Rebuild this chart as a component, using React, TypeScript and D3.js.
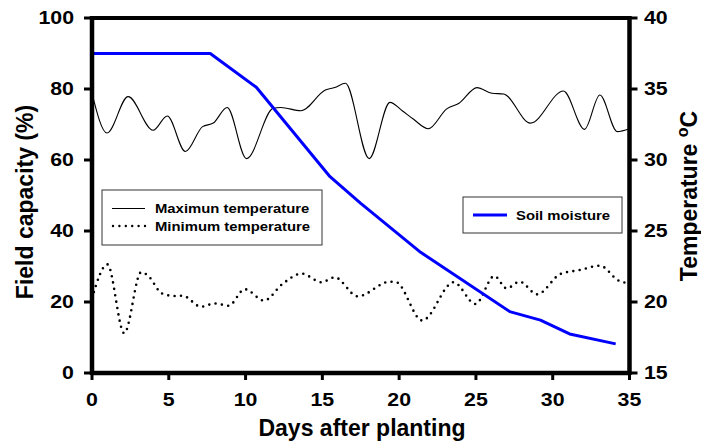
import React from 'react';
import * as d3 from 'd3';

// Soil moisture (field capacity %, left axis)
const soilDays = [0, 7.7, 10.7, 15.5, 17.5, 21.4, 27.2, 29.2, 31.1, 34.1];
const soilMoisture = [90, 90, 80.5, 55.3, 47.8, 34.0, 17.3, 14.9, 11.0, 8.2];

// Maximum temperature (°C, right axis)
const maxTempDays = [0, 0.98, 2.35, 3.98, 4.9, 6.08, 7.2, 7.9, 8.8, 10.06, 11.8, 12.3, 13.6, 15.2, 15.8, 16.5, 18.05, 19.4, 20.2, 20.9, 21.9, 23.1, 23.9, 25.07, 26.05, 26.8, 28.55, 30.7, 32.07, 33.07, 34.2, 35];
const maxTemp = [34.7, 31.9, 34.46, 32.1, 33.1, 30.6, 32.35, 32.6, 33.7, 30.1, 33.64, 33.7, 33.47, 34.93, 35.1, 35.4, 30.1, 34.06, 33.47, 32.9, 32.2, 33.6, 34.0, 35.1, 34.7, 34.65, 32.6, 34.86, 32.16, 34.58, 32.0, 32.2];

// Minimum temperature (°C, right axis)
const minTempDays = [0, 1.0, 2.1, 3.2, 3.65, 4.56, 5.4, 5.9, 7.1, 8.0, 8.9, 9.95, 11.2, 12.4, 13.65, 14.95, 15.8, 17.3, 19.4, 19.8, 21.5, 23.55, 24.97, 26.2, 27.0, 27.85, 28.98, 30.5, 31.76, 33.07, 34.3, 35];
const minTemp = [20.26, 22.65, 17.8, 22.1, 21.85, 20.6, 20.42, 20.44, 19.67, 19.9, 19.74, 20.9, 20.1, 21.27, 22.0, 21.39, 21.74, 20.4, 21.43, 21.4, 18.7, 21.39, 19.86, 21.83, 20.96, 21.43, 20.54, 21.97, 22.25, 22.56, 21.5, 21.3];

const xTicks = [0, 5, 10, 15, 20, 25, 30, 35];
const leftTicks = [0, 20, 40, 60, 80, 100];
const rightTicks = [15, 20, 25, 30, 35, 40];

const xLabel = 'Days after planting';
const leftLabel = 'Field capacity (%)';
const rightLabel = 'Temperature ';
const legendMax = 'Maximun temperature';
const legendMin = 'Minimum temperature';
const legendSoil = 'Soil moisture';

const FONT = '"Liberation Sans", Arial, Helvetica, sans-serif';

export default function App() {
  const W = 701, H = 441;
  const L = 92, R = 629.5, T = 18, B = 373;
  const x = d3.scaleLinear().domain([0, 35]).range([L, R]);
  const yL = d3.scaleLinear().domain([0, 100]).range([B, T]);
  const yR = d3.scaleLinear().domain([15, 40]).range([B, T]);

  const soilLine = d3.line<number>().x((_, i) => x(soilDays[i])).y(d => yL(d));
  const maxLine = d3.line<number>().x((_, i) => x(maxTempDays[i])).y(d => yR(d)).curve(d3.curveMonotoneX);
  const minLine = d3.line<number>().x((_, i) => x(minTempDays[i])).y(d => yR(d)).curve(d3.curveMonotoneX);

  const sx = 1.22;
  const lsx = 1.1;

  return (
    <svg width={W} height={H} viewBox={`0 0 ${W} ${H}`} style={{ position: 'absolute', left: 0, top: 0, background: '#fff' }} fontFamily={FONT} fontWeight="bold">
      <rect x={0} y={0} width={W} height={H} fill="#fff" />

      {/* data lines */}
      <path d={maxLine(maxTemp) || ''} fill="none" stroke="#000" strokeWidth={1.1} />
      <path d={minLine(minTemp) || ''} fill="none" stroke="#000" strokeWidth={2.6} strokeDasharray="0 6.4" strokeLinecap="round" />
      <path d={soilLine(soilMoisture) || ''} fill="none" stroke="#0000ff" strokeWidth={3} strokeLinejoin="round" />

      {/* frame */}
      <line x1={L} x2={R} y1={T} y2={T} stroke="#000" strokeWidth={4} />
      <line x1={L} x2={R} y1={B} y2={B} stroke="#000" strokeWidth={4.5} />
      <line x1={L} x2={L} y1={T - 2} y2={B + 2} stroke="#000" strokeWidth={4.5} />
      <line x1={R} x2={R} y1={T - 2} y2={B + 2} stroke="#000" strokeWidth={4.5} />

      {/* left axis */}
      {leftTicks.map(v => (
        <g key={'l' + v}>
          <line x1={L - 8} x2={L} y1={yL(v)} y2={yL(v)} stroke="#000" strokeWidth={3} />
          <text transform={`translate(74,${yL(v)}) scale(${sx},1)`} textAnchor="end" dy="0.36em" fontSize={17.5}>{v}</text>
        </g>
      ))}

      {/* right axis */}
      {rightTicks.map(v => (
        <g key={'r' + v}>
          <line x1={R} x2={R + 8} y1={yR(v)} y2={yR(v)} stroke="#000" strokeWidth={3} />
          <text transform={`translate(644,${yR(v)}) scale(${sx},1)`} textAnchor="start" dy="0.36em" fontSize={17.5}>{v}</text>
        </g>
      ))}

      {/* bottom axis */}
      {xTicks.map(v => (
        <g key={'b' + v}>
          <line x1={x(v)} x2={x(v)} y1={B} y2={B + 7} stroke="#000" strokeWidth={3} />
          <text transform={`translate(${x(v)},406) scale(${sx},1)`} textAnchor="middle" fontSize={17.5}>{v}</text>
        </g>
      ))}

      {/* axis titles */}
      <text x={362} y={436} textAnchor="middle" fontSize={23}>{xLabel}</text>
      <text transform="translate(33,202) rotate(-90)" textAnchor="middle" fontSize={23}>{leftLabel}</text>
      <text transform="translate(697,196) rotate(-90)" textAnchor="middle" fontSize={23}>
        {rightLabel}
        <tspan fontSize={16} dy={-9}>o</tspan>
        <tspan dy={9}>C</tspan>
      </text>

      {/* legend 1 */}
      <rect x={102} y={190} width={220} height={55} fill="#fff" stroke="#333" strokeWidth={1} />
      <line x1={112} x2={145} y1={208.5} y2={208.5} stroke="#000" strokeWidth={1.1} />
      <line x1={113} x2={146} y1={226} y2={226} stroke="#000" strokeWidth={2.4} strokeDasharray="0 6.4" strokeLinecap="round" />
      <text transform={`translate(155,213) scale(${lsx},1)`} fontSize={13.5}>{legendMax}</text>
      <text transform={`translate(155,231) scale(${lsx},1)`} fontSize={13.5}>{legendMin}</text>

      {/* legend 2 */}
      <rect x={463} y={197} width={159} height={36} fill="#fff" stroke="#333" strokeWidth={1} />
      <line x1={473} x2={507} y1={215} y2={215} stroke="#0000ff" strokeWidth={3} />
      <text transform={`translate(516,220) scale(${lsx},1)`} fontSize={13.5}>{legendSoil}</text>
    </svg>
  );
}
